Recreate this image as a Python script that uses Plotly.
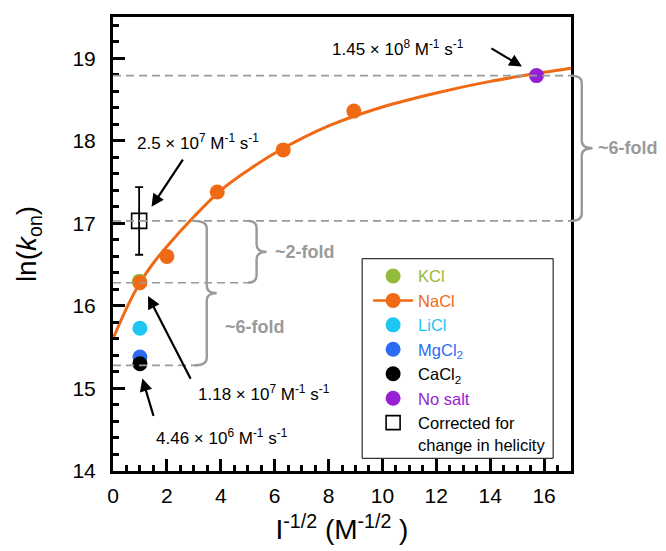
import plotly.graph_objects as go

# ---------------- data ----------------
nacl_x = [1.0, 2.0, 3.87, 6.32, 8.94]
nacl_y = [16.28, 16.60, 17.38, 17.89, 18.36]

fit_x = [0, 0.5, 1, 1.5, 2, 3, 4, 5, 6, 8, 10, 12, 14, 16, 17]
fit_y = [15.60, 15.97, 16.28, 16.52, 16.72, 17.08, 17.40, 17.64, 17.85, 18.18, 18.41, 18.58, 18.72, 18.83, 18.88]

kcl_x, kcl_y = [0.98], [16.30]
licl_x, licl_y = [1.0], [15.73]
mgcl2_x, mgcl2_y = [1.0], [15.38]
cacl2_x, cacl2_y = [1.0], [15.30]
nosalt_x, nosalt_y = [15.72], [18.79]
corr_x, corr_y, corr_err = [0.97], [17.03], [0.41]

legend_names = ["KCl", "NaCl", "LiCl", "MgCl<sub>2</sub>", "CaCl<sub>2</sub>", "No salt",
                "Corrected for<br>change in helicity"]

X_RANGE = [0, 17]
Y_RANGE = [14, 19.5]

C_KCL = "#94BA3A"
C_NACL = "#F06A16"
C_LICL = "#1EC6F4"
C_MG = "#2C6CF2"
C_CA = "#000000"
C_NOSALT = "#9621D4"
GRAY = "#9A9A9A"
FONT = "Liberation Sans, Arial, sans-serif"

fig = go.Figure()

# fitted curve
fig.add_trace(go.Scatter(x=fit_x, y=fit_y, mode="lines", line=dict(color=C_NACL, width=3, shape="spline"),
                         showlegend=False, hoverinfo="skip"))

def pts(x, y, color):
    fig.add_trace(go.Scatter(x=x, y=y, mode="markers", marker=dict(size=15, color=color),
                             showlegend=False))

pts(kcl_x, kcl_y, C_KCL)
pts(nacl_x, nacl_y, C_NACL)
pts(licl_x, licl_y, C_LICL)
pts(mgcl2_x, mgcl2_y, C_MG)
pts(cacl2_x, cacl2_y, C_CA)
pts(nosalt_x, nosalt_y, C_NOSALT)

fig.add_trace(go.Scatter(x=corr_x, y=corr_y, mode="markers",
                         marker=dict(symbol="square-open", size=15, color="black", line=dict(width=1.6)),
                         error_y=dict(type="data", array=corr_err, color="black", thickness=1.8, width=4),
                         showlegend=False))

# legend entries (dummy traces)
leg_styles = [
    ("markers", dict(size=15, color=C_KCL), C_KCL),
    ("lines+markers", dict(size=15, color=C_NACL), C_NACL),
    ("markers", dict(size=15, color=C_LICL), C_LICL),
    ("markers", dict(size=15, color=C_MG), C_MG),
    ("markers", dict(size=15, color=C_CA), C_CA),
    ("markers", dict(size=15, color=C_NOSALT), C_NOSALT),
    ("markers", dict(size=14, color="black", symbol="square-open", line=dict(width=1.6)), "#000000"),
]
for name, (mode, mk, col) in zip(legend_names, leg_styles):
    fig.add_trace(go.Scatter(x=[None], y=[None], mode=mode, marker=mk,
                             line=dict(color=col, width=2.5),
                             name=f'<span style="color:{col}">{name}</span>'))

# ---------------- helpers ----------------
def px(x):
    return (x - X_RANGE[0]) / (X_RANGE[1] - X_RANGE[0])

def py(y):
    return (y - Y_RANGE[0]) / (Y_RANGE[1] - Y_RANGE[0])

shapes = []
# dashed guide lines
for y, x1 in [(nosalt_y[0], 17), (corr_y[0], 17), (nacl_y[0], 5.0), (cacl2_y[0] - 0.02, 3.0)]:
    shapes.append(dict(type="line", xref="x", yref="y", x0=0, x1=x1, y0=y, y1=y,
                       line=dict(color=GRAY, width=1.6, dash="8px,5px"), layer="above"))

def brace(xl, xm, xt, y0, y1, r=0.09):
    ym = (y0 + y1) / 2
    p = (f"M {px(xl)},{py(y1)} Q {px(xm)},{py(y1)} {px(xm)},{py(y1 - r)} "
         f"L {px(xm)},{py(ym + r)} Q {px(xm)},{py(ym)} {px(xt)},{py(ym)} "
         f"Q {px(xm)},{py(ym)} {px(xm)},{py(ym - r)} "
         f"L {px(xm)},{py(y0 + r)} Q {px(xm)},{py(y0)} {px(xl)},{py(y0)}")
    return dict(type="path", xref="paper", yref="paper", path=p,
                line=dict(color=GRAY, width=2.4), layer="above")

shapes.append(brace(5.0, 5.33, 5.7, nacl_y[0], corr_y[0]))
shapes.append(brace(3.0, 3.48, 3.85, cacl2_y[0] - 0.02, corr_y[0]))
shapes.append(brace(17.0, 17.4, 17.8, corr_y[0], nosalt_y[0]))

# legend frame
shapes.append(dict(type="rect", xref="paper", yref="paper", x0=0.544, x1=0.961, y0=0.028, y1=0.4676,
                   line=dict(color="black", width=1), fillcolor="white", layer="above"))

annotations = []
for x, y, t in [(5.95, 16.655, "~2-fold"), (4.1, 15.74, "~6-fold"), (17.92, 17.91, "~6-fold")]:
    annotations.append(dict(x=px(x), y=py(y), xref="paper", yref="paper", text=f"<b>{t}</b>",
                            showarrow=False, xanchor="left", yanchor="middle",
                            font=dict(size=18, color=GRAY, family=FONT)))

unit = " M<sup>-1</sup> s<sup>-1</sup>"
for x, y, t in [(8.05, 19.12, "1.45 × 10<sup>8</sup>" + unit),
                (0.81, 17.98, "2.5 × 10<sup>7</sup>" + unit),
                (3.07, 14.94, "1.18 × 10<sup>7</sup>" + unit),
                (1.51, 14.41, "4.46 × 10<sup>6</sup>" + unit)]:
    annotations.append(dict(x=x, y=y, xref="x", yref="y", text=t, showarrow=False,
                            xanchor="left", yanchor="middle", font=dict(size=17, color="black", family=FONT)))

for hx, hy, tx, ty in [(15.18, 18.90, 13.99, 19.13),
                       (1.43, 17.20, 2.63, 17.79),
                       (1.30, 16.12, 2.91, 15.10),
                       (1.09, 15.12, 1.52, 14.65)]:
    annotations.append(dict(x=hx, y=hy, ax=tx, ay=ty, xref="x", yref="y", axref="x", ayref="y",
                            text="", showarrow=True, arrowhead=2, arrowsize=1.15, arrowwidth=2.2,
                            arrowcolor="black"))

axis_common = dict(showline=True, linecolor="black", linewidth=3, mirror=True, ticks="inside",
                   tickcolor="black", tickwidth=2.5, ticklen=12, showgrid=False, zeroline=False,
                   tickfont=dict(size=21, color="black", family=FONT))

fig.update_layout(
    width=666, height=551,
    margin=dict(l=105, r=103, t=6, b=88),
    plot_bgcolor="white", paper_bgcolor="white",
    font=dict(family=FONT, color="black"),
    xaxis=dict(range=X_RANGE, dtick=2, tick0=0, ticklabelstandoff=4,
               minor=dict(dtick=0.5, ticks="inside", ticklen=6, tickwidth=2.5, tickcolor="black"),
               title=dict(text="I<sup>-1/2</sup> (M<sup>-1/2</sup> )", font=dict(size=28, family=FONT),
                          standoff=14),
               **axis_common),
    yaxis=dict(range=Y_RANGE, dtick=1, tick0=14, ticklabelstandoff=10,
               minor=dict(dtick=0.2, ticks="inside", ticklen=6, tickwidth=2.5, tickcolor="black"),
               title=dict(text="ln(<i>k</i><sub>on</sub>)", font=dict(size=28, family=FONT), standoff=28),
               **axis_common),
    legend=dict(x=0.557, y=0.4676, xanchor="left", yanchor="top", borderwidth=0,
                bgcolor="rgba(0,0,0,0)", font=dict(size=16.5, family=FONT), valign="top",
                itemwidth=40),
    shapes=shapes,
    annotations=annotations,
)

fig.write_html("out.html")
